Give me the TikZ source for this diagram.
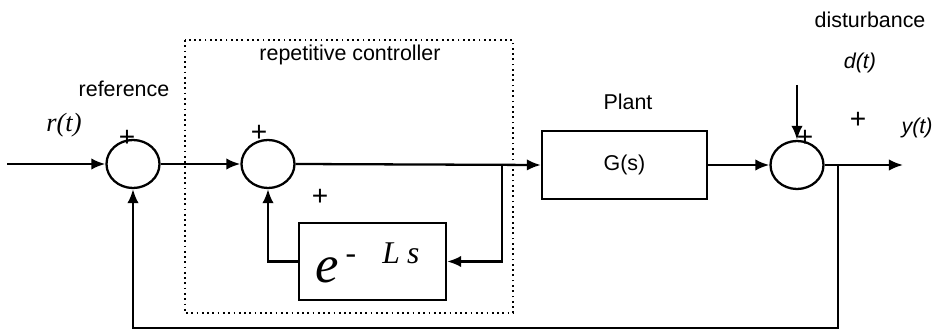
\documentclass[tikz,border=0pt]{standalone}
\usepackage{fontspec}
\setmainfont{Liberation Sans}
\newfontfamily\timesfont{Liberation Serif}
\usetikzlibrary{arrows.meta,shapes.geometric}

\begin{document}
\begin{tikzpicture}[x=0.02cm, y=-0.02cm, line width=1.3pt,
	>={Latex[length=8pt,width=6.5pt]},
	every node/.style={font=\fontsize{12.2}{14}\selectfont},
	sumnode/.style={draw, ellipse, minimum width=1.06cm, minimum height=0.96cm, inner sep=0pt},
	blocknode/.style={draw, rectangle, inner sep=0pt},
	plussign/.style={inner sep=0pt, font=\fontsize{16}{16}\selectfont}]
			
			\useasboundingbox (0,0) rectangle (939,330);
			
			% repetitive controller frame
			\draw[dotted, line width=1pt] (185,40) rectangle (513,313);
			\node (rc) at (350,55) {repetitive controller};
			
			% --- summing junctions ---
			\node[sumnode] (s1) at (133,164) {};
			\node[sumnode] (s2) at (268,164) {};
			\node[sumnode] (s3) at (797,165) {};
			
			% --- blocks ---
			\node[blocknode, minimum width=2.94cm, minimum height=1.54cm] (delay) at (372.5,261.5) {};
			\node[blocknode, minimum width=3.3cm, minimum height=1.36cm] (plant) at (624.5,165) {G(s)};
			\node[inner sep=0pt, anchor=base west] (dly) at (314,283)
				{\timesfont\itshape\fontsize{30}{30}\selectfont e\hspace{4pt}\raisebox{11pt}{\fontsize{18}{18}\selectfont\upshape -\hspace{15pt}\itshape L\hspace{4pt}s}};
			
			% free ends and branch points
			\coordinate (in)   at (7,164);
			\coordinate (out)  at (903,165);
			\coordinate (dtop) at (797,85);
			\coordinate (b1)   at (502,164);
			\coordinate (b2)   at (838,165);
			\coordinate (fb)   at (133,328);
			
			% labels
			\node[font=\timesfont\itshape\fontsize{15}{17}\selectfont] (rt) at (64,125) {r(t)};
			\node (ref)  at (124,89)  {reference};
			\node (pl)   at (628,102) {Plant};
			\node (dist) at (870,20)  {disturbance};
			\node[font=\itshape\fontsize{12.2}{14}\selectfont] (dt) at (860,63)  {d(t)};
			\node[font=\itshape\fontsize{12.2}{14}\selectfont] (yt) at (917,128) {y(t)};
			
			% signs
			\node[plussign] (p1) at (127,138) {+};
			\node[plussign] (p2) at (259,133) {+};
			\node[plussign] (p3) at (320,197) {+};
			\node[plussign] (p4) at (805,138) {+};
			\node[plussign] (p5) at (858,120) {+};
			
			% --- forward path ---
			\draw[->] (in) -- (s1.west);
			\draw[->] (s1.east) -- (s2.west);
			\draw[->] (s2.east) -- (plant.west);
			\draw[->] (plant.east) -- (s3.west);
			\draw[->] (s3.east) -- (out);
			\draw[->] (dtop) -- (s3.north);
			
			% --- delay loop ---
			\draw[->] (b1) |- (delay.east);
			\draw[->] (delay.west) -| (s2.south);
			
			% --- outer feedback ---
			\draw[->] (b2) |- (fb) -- (s1.south);
			
		\end{tikzpicture}
\end{document}
